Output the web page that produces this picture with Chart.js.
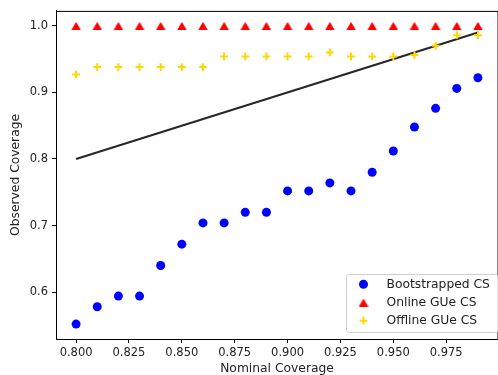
<!DOCTYPE html>
<html>
<head>
<meta charset="utf-8">
<script src="https://cdn.jsdelivr.net/npm/chart.js@4"></script>
<style>
  html, body { margin: 0; padding: 0; background: #fff; overflow: hidden; }
  canvas { display: block; }
</style>
</head>
<body>
<canvas id="chart" width="504" height="375"></canvas>
<script>
// nominal coverage levels
const nominal = [0.80, 0.81, 0.82, 0.83, 0.84, 0.85, 0.86, 0.87, 0.88, 0.89,
                 0.90, 0.91, 0.92, 0.93, 0.94, 0.95, 0.96, 0.97, 0.98, 0.99];

const bootstrapped = [0.552, 0.578, 0.594, 0.594, 0.640, 0.672, 0.704, 0.704, 0.720, 0.720,
                      0.752, 0.752, 0.764, 0.752, 0.780, 0.812, 0.848, 0.876, 0.906, 0.922];
const onlineGUe = [1.0, 1.0, 1.0, 1.0, 1.0, 1.0, 1.0, 1.0, 1.0, 1.0,
                   1.0, 1.0, 1.0, 1.0, 1.0, 1.0, 1.0, 1.0, 1.0, 1.0];
const offlineGUe = [0.927, 0.938, 0.938, 0.938, 0.938, 0.938, 0.938, 0.954, 0.954, 0.954,
                    0.954, 0.954, 0.960, 0.954, 0.954, 0.954, 0.956, 0.970, 0.986, 0.986];

// ideal coverage line y = x
const diagonal = [0.80, 0.99];

const xTicks = [0.800, 0.825, 0.850, 0.875, 0.900, 0.925, 0.950, 0.975];
const yTicks = [0.6, 0.7, 0.8, 0.9, 1.0];

const FONT = 'DejaVu Sans';

function toPoints(xs, ys) {
    return xs.map((x, i) => ({ x: x, y: ys[i] }));
}

// triangle marker centred on its box (like matplotlib '^')
function makeTriangle(color) {
    const c = document.createElement('canvas');
    c.width = 10;
    c.height = 8;
    const g = c.getContext('2d');
    g.fillStyle = color;
    g.beginPath();
    g.moveTo(5, 0);
    g.lineTo(9.7, 8);
    g.lineTo(0.3, 8);
    g.closePath();
    g.fill();
    return c;
}
const redTriangle = makeTriangle('#ff0000');

// top and right spines
const frame = {
    id: 'frame',
    afterDatasetsDraw(chart) {
        const a = chart.chartArea;
        const ctx = chart.ctx;
        ctx.save();
        ctx.strokeStyle = '#000';
        ctx.lineWidth = 1;
        ctx.beginPath();
        ctx.moveTo(a.left, a.top + 0.5);
        ctx.lineTo(a.right, a.top + 0.5);
        ctx.lineTo(a.right, a.bottom);
        ctx.stroke();
        ctx.restore();
    }
};

// legend box drawn inside the plot, lower right
const innerLegend = {
    id: 'innerLegend',
    afterDraw(chart) {
        const ctx = chart.ctx;
        const items = chart.data.datasets.filter(d => d.inLegend);
        const x0 = 346, y0 = 274, w = 152, h = 58;
        ctx.save();
        ctx.fillStyle = 'rgba(255,255,255,0.8)';
        ctx.strokeStyle = '#d0d0d0';
        ctx.lineWidth = 1;
        ctx.beginPath();
        ctx.roundRect(x0 + 0.5, y0 + 0.5, w, h, 3);
        ctx.fill();
        ctx.stroke();
        ctx.font = '12.3px "' + FONT + '"';
        ctx.textBaseline = 'middle';
        items.forEach((d, i) => {
            const cy = 284.3 + i * 18.2;
            ctx.fillStyle = d.backgroundColor;
            ctx.strokeStyle = d.borderColor;
            ctx.lineWidth = d.borderWidth || 1;
            Chart.helpers.drawPoint(ctx, {
                pointStyle: d.pointStyle,
                radius: d.pointRadius,
                borderWidth: d.borderWidth
            }, 363.5, cy);
            ctx.fillStyle = '#222';
            ctx.fillText(d.label, 386.5, cy + 0.5);
        });
        ctx.restore();
    }
};

new Chart(document.getElementById('chart'), {
    type: 'scatter',
    data: {
        datasets: [
            {
                label: 'ideal',
                data: toPoints(diagonal, diagonal),
                showLine: true,
                borderColor: '#262626',
                borderWidth: 2,
                pointRadius: 0,
                order: 4
            },
            {
                label: 'Bootstrapped CS',
                inLegend: true,
                data: toPoints(nominal, bootstrapped),
                pointStyle: 'circle',
                pointRadius: 4.5,
                backgroundColor: '#0000ff',
                borderColor: '#0000ff',
                borderWidth: 0,
                order: 3
            },
            {
                label: 'Online GUe CS',
                inLegend: true,
                data: toPoints(nominal, onlineGUe),
                pointStyle: redTriangle,
                pointRadius: 5,
                backgroundColor: '#ff0000',
                borderColor: '#ff0000',
                borderWidth: 0,
                order: 2
            },
            {
                label: 'Offline GUe CS',
                inLegend: true,
                data: toPoints(nominal, offlineGUe),
                pointStyle: 'cross',
                pointRadius: 3.9,
                backgroundColor: '#ffd700',
                borderColor: '#ffd700',
                borderWidth: 2,
                order: 1
            }
        ]
    },
    options: {
        responsive: false,
        animation: false,
        devicePixelRatio: 1,
        layout: { padding: { top: 6, right: 2.4, left: 0, bottom: 0 } },
        plugins: {
            legend: { display: false },
            tooltip: { enabled: false }
        },
        scales: {
            x: {
                type: 'linear',
                min: 0.7905,
                max: 0.9995,
                afterFit: s => { s.height = 36; },
                afterBuildTicks: s => { s.ticks = xTicks.map(v => ({ value: v })); },
                grid: { drawOnChartArea: false, tickLength: 4, tickColor: '#000' },
                border: { color: '#000', width: 1 },
                ticks: {
                    padding: 3,
                    color: '#222',
                    font: { family: FONT, size: 11.5 },
                    maxRotation: 0,
                    callback: v => v.toFixed(3)
                },
                title: {
                    display: true,
                    text: 'Nominal Coverage',
                    color: '#222',
                    padding: { top: 0, bottom: -1.5 },
                    font: { family: FONT, size: 12.3 }
                }
            },
            y: {
                type: 'linear',
                min: 0.5296,
                max: 1.0224,
                afterFit: s => { s.width = 56; },
                afterBuildTicks: s => { s.ticks = yTicks.map(v => ({ value: v })); },
                grid: { drawOnChartArea: false, tickLength: 4, tickColor: '#000' },
                border: { color: '#000', width: 1 },
                ticks: {
                    padding: 4,
                    color: '#222',
                    font: { family: FONT, size: 11.5 },
                    callback: v => v.toFixed(1)
                },
                title: {
                    display: true,
                    text: 'Observed Coverage',
                    color: '#222',
                    padding: { top: 8.5, bottom: 0 },
                    font: { family: FONT, size: 12.3 }
                }
            }
        }
    },
    plugins: [frame, innerLegend]
});
</script>
</body>
</html>
